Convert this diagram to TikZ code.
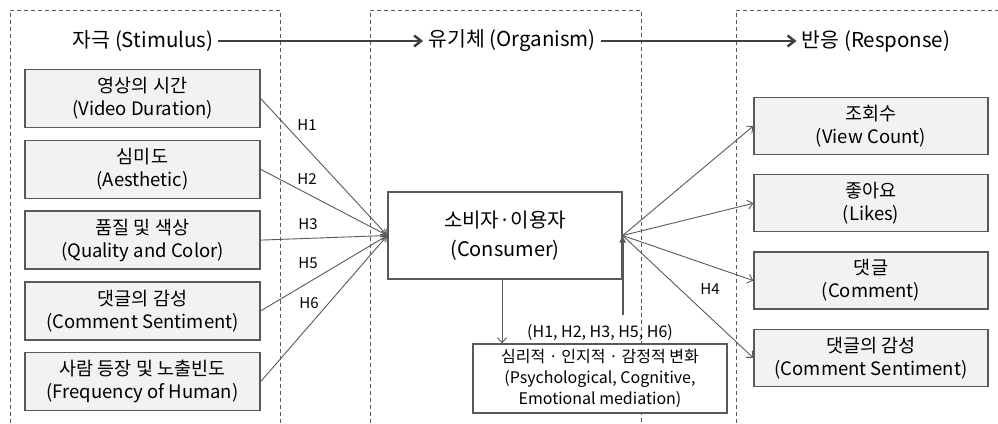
\documentclass[tikz,border=0pt]{standalone}
\usepackage{fontspec}
\setmainfont{Noto Sans CJK KR}
\usetikzlibrary{arrows.meta,positioning}
\definecolor{boxfill}{HTML}{F2F2F2}
\definecolor{edge}{HTML}{595959}
\definecolor{ink}{HTML}{404040}

\begin{document}
\begin{tikzpicture}[
    x=1pt, y=-1pt,
    panel/.style={draw=edge, line width=0.9pt, dash pattern=on 4pt off 3pt},
    title/.style={font=\fontsize{20.5}{24}\selectfont, inner sep=5pt},
    factor/.style={draw=edge, fill=boxfill, line width=1.3pt, minimum width=235pt, minimum height=58pt, align=center, inner sep=0pt, font=\fontsize{18.5}{23}\selectfont},
    outcome/.style={factor, minimum width=234pt, minimum height=57pt},
    consumer/.style={draw=edge, fill=white, line width=1.3pt, minimum width=234pt, minimum height=87pt, align=center, inner sep=0pt, font=\fontsize{20}{29}\selectfont},
    mediator/.style={draw=edge, fill=white, line width=1.3pt, minimum width=254pt, minimum height=69pt, align=center, inner sep=0pt, font=\fontsize{16}{21}\selectfont},
    hlab/.style={font=\fontsize{15}{17}\selectfont, inner sep=1pt},
    flow/.style={-{Straight Barb[length=7pt,width=11pt,line width=2.5pt]}, line width=2.5pt, color=ink},
    link/.style={-{Straight Barb[length=5pt,width=9pt]}, line width=0.9pt, color=edge},
    back/.style={-{Triangle[length=7pt,width=6pt]}, line width=1.8pt, color=edge},
]
\useasboundingbox (0,0) rectangle (998,423);

% S-O-R panels
\draw[panel] (10,423) |- (280,10) -- (280,423);
\draw[panel] (370,423) |- (641,10) -- (641,423);
\draw[panel] (736,423) |- (998,10);

% Titles
\node[title] (stim) at (143,41) {자극 (Stimulus)};
\node[title] (org) at (512,41) {유기체 (Organism)};
\node[title] (resp) at (876,41) {반응 (Response)};
\draw[flow] (stim.east) -- (org.west);
\draw[flow] (org.east) -- (resp.west);

% Stimulus factors
\node[factor] (dur) at (142.5,98.5) {영상의 시간\\(Video Duration)};
\node[factor, below=11.5pt of dur] (aes) {심미도\\(Aesthetic)};
\node[factor, below=11.5pt of aes] (qual) {품질 및 색상\\(Quality and Color)};
\node[factor, below=11.5pt of qual] (sent) {댓글의 감성\\(Comment Sentiment)};
\node[factor, below=11.5pt of sent] (human) {사람 등장 및 노출빈도\\(Frequency of Human)};

% Organism
\node[consumer] (cons) at (505,235.5) {소비자·이용자\\(Consumer)};
\node[mediator] (med) at (600,378.5) {심리적 · 인지적 · 감정적 변화\\(Psychological, Cognitive,\\Emotional mediation)};
\node[hlab, above=2pt of med, font=\fontsize{16}{18}\selectfont] (hyp) {(H1, H2, H3, H5, H6)};

% Responses
\node[outcome] (view) at (871,126) {조회수\\(View Count)};
\node[outcome, below=19pt of view] (like) {좋아요\\(Likes)};
\node[outcome, below=19pt of like] (cmt) {댓글\\(Comment)};
\node[outcome, below=19pt of cmt] (csent) {댓글의 감성\\(Comment Sentiment)};

% Stimulus -> Organism
\draw[link] (dur.east) -- (cons.west);
\draw[link] (aes.east) -- (cons.west);
\draw[link] (qual.east) -- (cons.west);
\draw[link] (sent.east) -- (cons.west);
\draw[link] (human.east) -- (cons.west);
\node[hlab] (h1) at (307,125) {H1};
\node[hlab] (h2) at (307,179) {H2};
\node[hlab] (h3) at (308,224) {H3};
\node[hlab] (h5) at (308,263) {H5};
\node[hlab] (h6) at (309,303) {H6};

% Organism -> Response
\draw[link] (cons.east) -- (view.west);
\draw[link] (cons.east) -- (like.west);
\draw[link] (cons.east) -- (cmt.west);
\draw[link] (cons.east) -- (csent.west);
\node[hlab] (h4) at (710,289) {H4};

% Mediation
\draw[link] (cons.south -| 502,0) -- (502,0 |- med.north);
\draw[back] ([yshift=8pt]hyp.north -| cons.east) -- (cons.east);

\end{tikzpicture}
\end{document}
